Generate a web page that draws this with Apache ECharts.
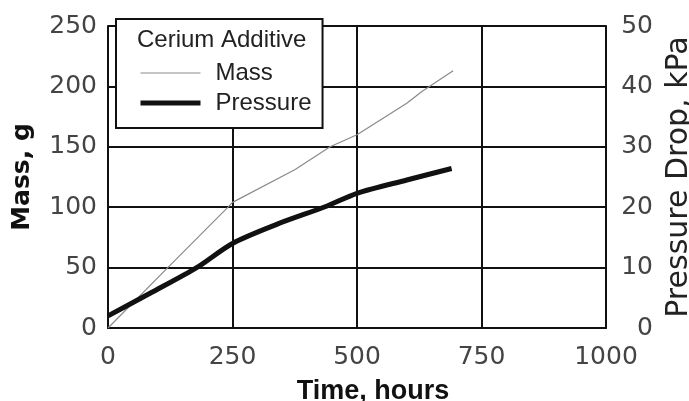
<!DOCTYPE html>
<html>
<head>
<meta charset="utf-8">
<script src="https://cdn.jsdelivr.net/npm/echarts@6/dist/echarts.min.js"></script>
<style>
  html, body { margin: 0; padding: 0; background: #fff; }
  #chart { width: 689px; height: 401px; }
</style>
</head>
<body>
<div id="chart"></div>
<script>
// Filter loading test with cerium additive: collected mass and pressure drop over time
const xTicks = [0, 250, 500, 750, 1000];
const massTicks = [0, 50, 100, 150, 200, 250];
const pressureTicks = [0, 10, 20, 30, 40, 50];

// [hours, grams]
const massData = [
  [0, 0], [120, 50], [241, 100], [250, 104], [375, 131],
  [446, 150], [500, 160], [600, 186], [631, 196], [693, 213]
];
// [hours, kPa]
const pressureData = [
  [0, 2], [90, 6], [178, 10], [250, 14], [340, 17.2],
  [440, 20.2], [500, 22.3], [600, 24.5], [690, 26.4]
];

const FONT = 'Liberation Sans, Arial, sans-serif';
const WIDE = 'DejaVu Sans, Liberation Sans, sans-serif';
const labelFont = { fontFamily: WIDE, fontSize: 25, color: '#444' };
const plain = v => String(v);

const chart = echarts.init(document.getElementById('chart'), null, { renderer: 'canvas' });
chart.setOption({
  animation: false,
  backgroundColor: '#fff',
  grid: { left: 108, right: 83, top: 26, bottom: 73, containLabel: false, outerBoundsMode: 'none' },
  title: {
    text: 'Cerium Additive',
    left: 132, top: 23,
    textStyle: { fontFamily: FONT, fontSize: 24, fontWeight: 'normal', color: '#222' },
    z: 10
  },
  legend: {
    orient: 'vertical',
    left: 116, top: 19,
    padding: [42, 11, 13, 22],
    itemWidth: 60, itemHeight: 14, itemGap: 6,
    backgroundColor: '#fff',
    borderColor: '#111', borderWidth: 2,
    itemStyle: { opacity: 0 },
    textStyle: { fontFamily: FONT, fontSize: 24, color: '#222', padding: [0, 0, 0, 10] },
    data: [
      { name: 'Mass', lineStyle: { width: 1.2 } },
      { name: 'Pressure', lineStyle: { width: 5 } }
    ],
    z: 8
  },
  xAxis: {
    type: 'value', min: xTicks[0], max: xTicks[xTicks.length - 1], interval: 250,
    name: 'Time, hours', nameLocation: 'middle', nameGap: 50,
    nameTextStyle: { fontFamily: FONT, fontSize: 27, fontWeight: 'bold', color: '#111', padding: [0, 0, 0, 32] },
    axisLine: { show: true, onZero: false, lineStyle: { color: '#111', width: 2 } },
    axisTick: { show: false },
    axisLabel: Object.assign({ margin: 17, formatter: plain }, labelFont),
    splitLine: { show: true, lineStyle: { color: '#111', width: 2 } }
  },
  yAxis: [
    {
      type: 'value', min: massTicks[0], max: massTicks[massTicks.length - 1], interval: 50,
      name: 'Mass, g', nameLocation: 'middle', nameGap: 73, nameRotate: 90,
      nameTextStyle: { fontFamily: WIDE, fontSize: 25, fontWeight: 'bold', color: '#111' },
      axisLine: { show: true, lineStyle: { color: '#111', width: 2 } },
      axisTick: { show: false },
      axisLabel: Object.assign({ margin: 11, formatter: plain }, labelFont),
      splitLine: { show: true, lineStyle: { color: '#111', width: 2 } }
    },
    {
      type: 'value', position: 'right',
      min: pressureTicks[0], max: pressureTicks[pressureTicks.length - 1], interval: 10,
      name: 'Pressure Drop, kPa', nameLocation: 'middle', nameGap: 57, nameRotate: 90,
      nameTextStyle: { fontFamily: WIDE, fontSize: 30, color: '#222' },
      axisLine: { show: true, lineStyle: { color: '#111', width: 2 } },
      axisTick: { show: false },
      axisLabel: Object.assign({ margin: 47, align: 'right', formatter: plain }, labelFont),
      splitLine: { show: false }
    }
  ],
  series: [
    {
      name: 'Mass', type: 'line', yAxisIndex: 0, data: massData,
      symbol: 'none', smooth: false,
      lineStyle: { color: '#8a8a8a', width: 1.2 },
      itemStyle: { color: '#8a8a8a' },
      z: 3
    },
    {
      name: 'Pressure', type: 'line', yAxisIndex: 1, data: pressureData,
      symbol: 'none', smooth: 0.3,
      lineStyle: { color: '#111', width: 5 },
      itemStyle: { color: '#111' },
      z: 4
    }
  ]
});
</script>
</body>
</html>
